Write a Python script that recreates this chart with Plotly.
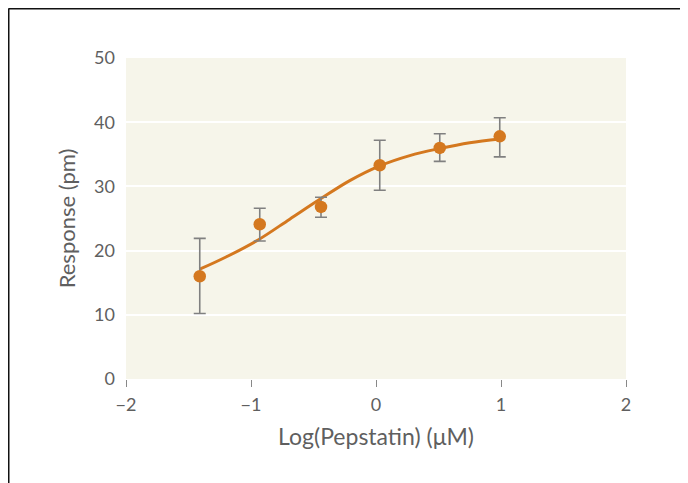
import plotly.graph_objects as go

# data
log_conc = [-1.41, -0.93, -0.44, 0.03, 0.51, 0.99]
response = [16.0, 24.1, 26.8, 33.3, 36.0, 37.8]
err_plus = [5.9, 2.5, 1.5, 3.9, 2.2, 2.9]
err_minus = [5.8, 2.6, 1.6, 3.9, 2.1, 3.2]

curve_x = [-1.41, -1.2, -0.94, -0.69, -0.44, -0.21, 0.03, 0.27, 0.51, 0.75, 0.99]
curve_y = [17.1, 19.0, 21.7, 24.9, 28.1, 30.9, 33.2, 34.8, 35.9, 36.8, 37.4]

x_ticks = [-2, -1, 0, 1, 2]
y_ticks = [0, 10, 20, 30, 40, 50]

orange = "#d4781f"
gray_txt = "#5f5f5f"
font_family = "Lato, 'Open Sans', sans-serif"

fig = go.Figure()
fig.add_trace(go.Scatter(
    x=curve_x, y=curve_y, mode="lines",
    line=dict(color=orange, width=3, shape="spline", smoothing=1.0),
    hoverinfo="skip", showlegend=False,
))
fig.add_trace(go.Scatter(
    x=log_conc, y=response, mode="markers",
    marker=dict(color=orange, size=12.5),
    error_y=dict(type="data", symmetric=False, array=err_plus, arrayminus=err_minus,
                 color="#808080", thickness=1.6, width=6),
    showlegend=False,
))

# page body has an 8px margin, so the figure is offset by 8px
OFF = 8
W, H = 688 - OFF, 483 - OFF
l, r, t, b = 126 - OFF, 62, 58 - OFF, 104
pw, ph = W - l - r, H - t - b

def px(xp):
    return (xp - OFF - l) / pw

def py(yp):
    return (H - b - (yp - OFF)) / ph

fig.add_shape(type="line", xref="paper", yref="paper",
              x0=px(8.5), x1=px(720), y0=py(8.5), y1=py(8.5),
              line=dict(color="#111111", width=2))
fig.add_shape(type="line", xref="paper", yref="paper",
              x0=px(8.5), x1=px(8.5), y0=py(8.5), y1=py(520),
              line=dict(color="#111111", width=2))

fig.update_layout(
    width=W, height=H,
    margin=dict(l=l, r=r, t=t, b=b),
    paper_bgcolor="white",
    plot_bgcolor="#f6f5ea",
    font=dict(family=font_family, color=gray_txt, size=18),
    xaxis=dict(
        range=[-2, 2], tickvals=x_ticks,
        ticktext=["\u22122", "\u22121", "0", "1", "2"],
        showgrid=False, zeroline=False, showline=False,
        ticks="outside", ticklen=7, tickwidth=1, tickcolor="#888888",
        ticklabelstandoff=2,
        title=dict(text="Log(Pepstatin) (\u03bcM)", font=dict(size=23, color=gray_txt), standoff=15),
        tickfont=dict(size=18, color=gray_txt),
    ),
    yaxis=dict(
        range=[0, 50], tickvals=y_ticks,
        showgrid=True, gridcolor="white", gridwidth=2,
        zeroline=False, showline=False, ticks="",
        ticklabelstandoff=10,
        title=dict(text="Response (pm)", font=dict(size=22, color=gray_txt), standoff=12),
        tickfont=dict(size=18, color=gray_txt),
    ),
)

fig.write_html("out.html")
